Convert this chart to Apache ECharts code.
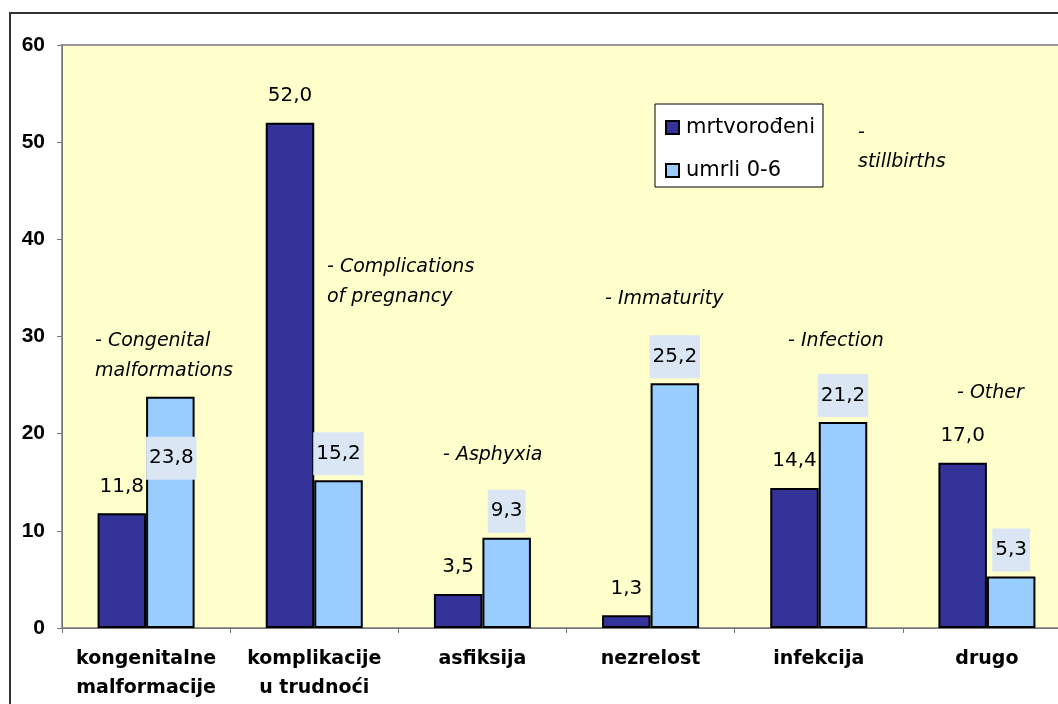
<!DOCTYPE html>
<html>
<head>
<meta charset="utf-8">
<script src="https://cdn.jsdelivr.net/npm/echarts@6/dist/echarts.min.js"></script>
<style>
html,body{margin:0;padding:0;background:#fff;overflow:hidden;width:1058px;height:704px;}
#chart{position:absolute;left:0;top:0;width:1090px;height:720px;}
</style>
</head>
<body>
<div id="chart"></div>
<script>
const categories = ['kongenitalne\nmalformacije', 'komplikacije\nu trudnoći', 'asfiksija', 'nezrelost', 'infekcija', 'drugo'];
const seriesNames = ['mrtvorođeni', 'umrli 0-6'];
const stillborn = [11.8, 52.0, 3.5, 1.3, 14.4, 17.0];
const died0to6 = [23.8, 15.2, 9.3, 25.2, 21.2, 5.3];
const yTicks = [0, 10, 20, 30, 40, 50, 60];
const notes = ['- Congenital', 'malformations', '- Complications', 'of pregnancy', '- Asphyxia', '- Immaturity', '- Infection', '- Other', '-', 'stillbirths'];

const fmt = v => v.toFixed(1).replace('.', ',');
const notePos = [[95,341],[95,371],[327,267],[327,297],[443,455],[605,299],[788,341],[957,393],[858,133],[858,162]];

const chart = echarts.init(document.getElementById('chart'), null, {renderer:'canvas'});
const option = {
  animation: false,
  backgroundColor: '#ffffff',
  textStyle: {fontFamily: '"DejaVu Sans", sans-serif'},
  grid: {left: 62, top: 45, width: 1009, height: 583, show: true, backgroundColor: '#FFFFCC', borderColor: '#999999', borderWidth: 2},
  legend: {
    orient: 'vertical', left: 655, top: 104,
    padding: [13, 8, 6, 10], itemGap: 22, itemWidth: 13, itemHeight: 13,
    backgroundColor: '#ffffff', borderColor: '#000000', borderWidth: 1,
    icon: 'rect',
    textStyle: {fontFamily: '"DejaVu Sans", sans-serif', fontSize: 21, color: '#000', padding: [0, 0, 0, 2]},
    data: seriesNames
  },
  xAxis: {
    type: 'category', data: categories,
    axisLine: {lineStyle: {color: '#777777', width: 1}},
    axisTick: {show: true, length: 5, lineStyle: {color: '#777777'}},
    axisLabel: {margin: 17, fontFamily: '"DejaVu Sans", sans-serif', fontWeight: 'bold', fontSize: 19, lineHeight: 29, color: '#000', interval: 0}
  },
  yAxis: {
    type: 'value', min: yTicks[0], max: yTicks[yTicks.length-1], interval: 10,
    splitLine: {show: false},
    axisLine: {show: true, lineStyle: {color: '#777777', width: 1}},
    axisTick: {show: true, length: 5, lineStyle: {color: '#777777'}},
    axisLabel: {margin: 17, fontFamily: '"Liberation Sans", Arial, sans-serif', fontWeight: 'bold', fontSize: 21, color: '#000'}
  },
  series: [
    {
      name: seriesNames[0], type: 'bar', data: stillborn,
      barGap: '0%', barCategoryGap: '42.3%',
      itemStyle: {color: '#333399', borderColor: '#000000', borderWidth: 2},
      label: {show: true, position: 'top', distance: 17, fontSize: 20, lineHeight: 20, color: '#000',
        fontFamily: '"DejaVu Sans", sans-serif', formatter: p => fmt(p.value)}
    },
    {
      name: seriesNames[1], type: 'bar',
      data: died0to6.map((v, i) => i === 0 ? {value: v, label: {offset: [1, 88]}} : v),
      barGap: '0%', barCategoryGap: '42.3%',
      itemStyle: {color: '#99CCFF', borderColor: '#000000', borderWidth: 2},
      label: {show: true, position: 'top', distance: 5, fontSize: 20, lineHeight: 19, color: '#000',
        fontFamily: '"DejaVu Sans", sans-serif', backgroundColor: '#dae6f4', padding: [12, 3],
        formatter: p => fmt(p.value)}
    }
  ],
  graphic: [
    {type: 'rect', silent: true, z: 100, shape: {x: 10, y: 13, width: 1200, height: 900},
     style: {fill: 'none', stroke: '#333333', lineWidth: 2}}
  ].concat(notes.map((t, i) => ({
    type: 'text', silent: true, z: 50,
    style: {text: t, x: notePos[i][0], y: notePos[i][1], fill: '#000',
      font: 'italic 19px "DejaVu Sans", sans-serif', verticalAlign: 'middle', align: 'left'}
  })))
};
chart.setOption(option);
</script>
</body>
</html>
